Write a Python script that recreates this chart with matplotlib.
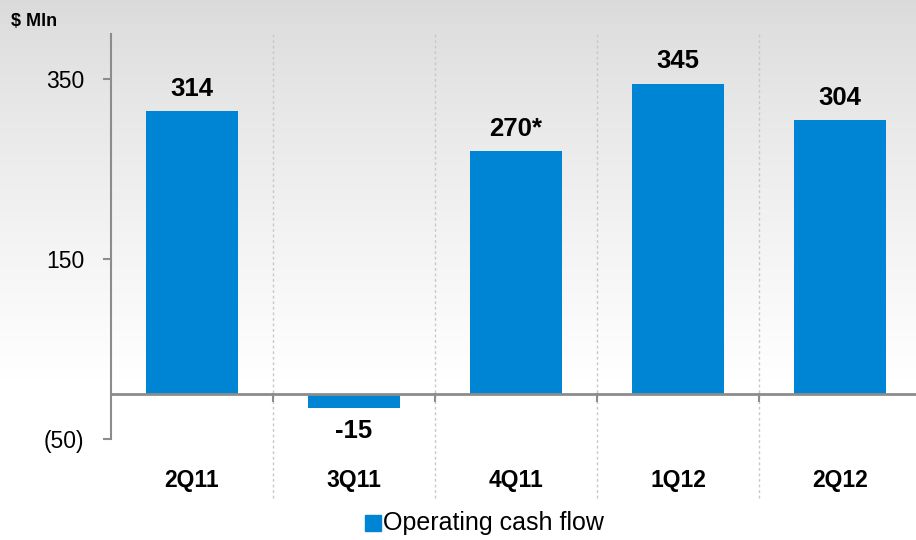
import numpy as np
import matplotlib.pyplot as plt

plt.rcParams['font.family'] = ['Liberation Sans', 'DejaVu Sans']

quarters = ['2Q11', '3Q11', '4Q11', '1Q12', '2Q12']
cash_flow = [314, -15, 270, 345, 304]
value_labels = ['314', '-15', '270*', '345', '304']
y_ticks = [350, 150, -50]
y_tick_labels = ['350', '150', '(50)']

W, H = 916, 540
fig = plt.figure(figsize=(W / 100, H / 100), dpi=100)

# grey-to-white background fade, white in the lower part
bg = fig.add_axes([0, 0, 1, 1], zorder=-10)
rows = np.arange(H)
shade = 0.855 + 0.145 * np.clip(rows / 380.0, 0, 1) ** 0.8
shade = shade[::-1][:, None]
bg.imshow(np.dstack([shade, shade, shade]), aspect='auto',
          extent=[0, 1, 0, 1], origin='lower')
bg.axis('off')

ax = fig.add_axes([111 / W, (H - 439) / H, 810 / W, 405 / H])
ax.patch.set_alpha(0)

x = np.arange(len(quarters))
ax.bar(x, cash_flow, width=0.57, color='#0085d4', zorder=3)

ax.set_xlim(-0.5, len(quarters) - 0.5)
ax.set_ylim(-50, 400)

# zero line and category separators
ax.axhline(0, color='#8c8c8c', lw=2, zorder=4)
for sep in x[:-1] + 0.5:
    ax.plot([sep, sep], [-115, 400], color='#c8c8c8', lw=1, ls=(0, (2, 2)),
            clip_on=False, zorder=1)
    ax.plot([sep, sep], [0, -8], color='#8c8c8c', lw=1.5, zorder=4)

for xi, v, lab in zip(x, cash_flow, value_labels):
    offset = 25 if v >= 0 else -26
    ax.text(xi, v + offset, lab, ha='center', va='center', fontsize=18.5,
            fontweight='bold')

for spine in ['top', 'right', 'bottom']:
    ax.spines[spine].set_visible(False)
ax.spines['left'].set_color('#8c8c8c')
ax.spines['left'].set_linewidth(1.5)
ax.set_yticks(y_ticks)
ax.set_yticklabels(y_tick_labels, fontsize=16.5)
ax.tick_params(axis='y', length=6, width=1.5, color='#8c8c8c', pad=13)
ax.set_xticks([])

for xi, q in zip(x, quarters):
    ax.text(xi, -96, q, ha='center', va='center', fontsize=16.5,
            fontweight='bold', clip_on=False)

fig.text(11 / W, 1 - 21 / H, '$ Mln', fontsize=13, fontweight='bold',
         va='center', ha='left')

# legend
fig.patches.append(plt.Rectangle((365 / W, 1 - 531 / H), 16 / W, 16 / H,
                                 color='#0085d4', transform=fig.transFigure))
fig.text(383 / W, 1 - 523 / H, 'Operating cash flow', fontsize=18,
         va='center', ha='left')

fig.savefig('out.png', dpi=100)
